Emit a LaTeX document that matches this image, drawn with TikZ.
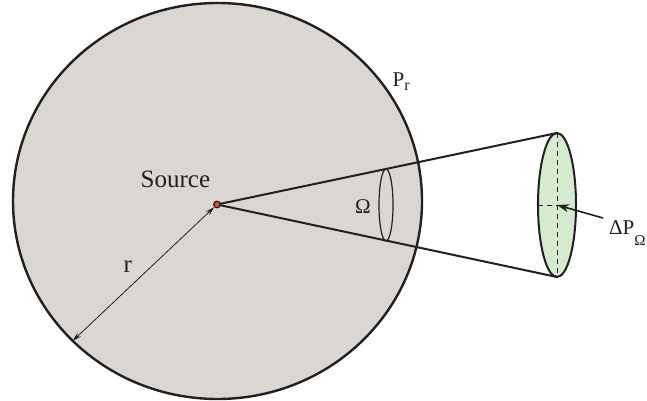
\documentclass[tikz,border=0pt]{standalone}
\usepackage{fontspec}
\setmainfont{Liberation Serif}
\usetikzlibrary{arrows.meta,shapes.geometric}
\definecolor{spherefill}{HTML}{DAD6D2}
\definecolor{diskfill}{HTML}{D4EBD0}
\definecolor{dotfill}{HTML}{E8501C}
\definecolor{ink}{HTML}{231F20}
\begin{document}
\begin{tikzpicture}[x=1pt,y=-1pt,
  oval/.style={ellipse, inner sep=0pt, outer sep=0pt, draw=ink},
  lbl/.style={inner sep=0pt, anchor=base west, text=ink, font=\fontsize{21}{24}\selectfont},
  biglbl/.style={lbl, font=\fontsize{25}{28}\selectfont},
  cone/.style={draw=ink, line width=2pt},
  guide/.style={draw=ink, line width=0.9pt, dash pattern=on 5pt off 4pt}]
\useasboundingbox (0,0) rectangle (647,401);
% sphere
\node[oval, line width=2.4pt, fill=spherefill, minimum width=409pt, minimum height=396pt] (sphere) at (217.5,201) {};
\coordinate (src) at (217,204.5);
% disk
\node[oval, line width=2pt, fill=diskfill, minimum width=38pt, minimum height=144pt] (disk) at (557,205) {};
% cone
\draw[cone] (src) -- (disk.north);
\draw[cone] (src) -- (disk.south);
% solid angle ellipse
\node[oval, line width=1.2pt, minimum width=14pt, minimum height=72pt] (omega) at (386,205) {};
% guides in disk
\draw[guide] (disk.north) -- (disk.south);
\draw[guide] (disk.west) -- (disk.center);
% source dot
\node[circle, inner sep=0pt, minimum size=6.5pt, fill=dotfill, draw=ink, line width=1.3pt] (dot) at (src) {};
% radius arrow
\draw[ink, line width=0.8pt, {Stealth[length=9pt,width=5pt]}-{Stealth[length=9pt,width=5pt]}] (sphere.224.5) -- (dot);
% pointer
\coordinate (ptr) at (603,218);
\draw[ink, line width=1.6pt, -{Stealth[length=12pt,width=8pt]}] (ptr) -- (disk.center);
% labels
\node[biglbl] (srclbl) at (140.5,187.7) {Source};
\node[biglbl] (rlbl) at (123.5,272.7) {r};
\node[lbl] (omegalbl) at (355,213.3) {Ω};
\node[lbl] (prlbl) at (392.5,86.7) {P\raisebox{-4pt}{\fontsize{16}{16}\selectfont r}};
\node[lbl] (dplbl) at (609,234) {ΔP\raisebox{-11pt}{\fontsize{15}{15}\selectfont Ω}};
\end{tikzpicture}
\end{document}
